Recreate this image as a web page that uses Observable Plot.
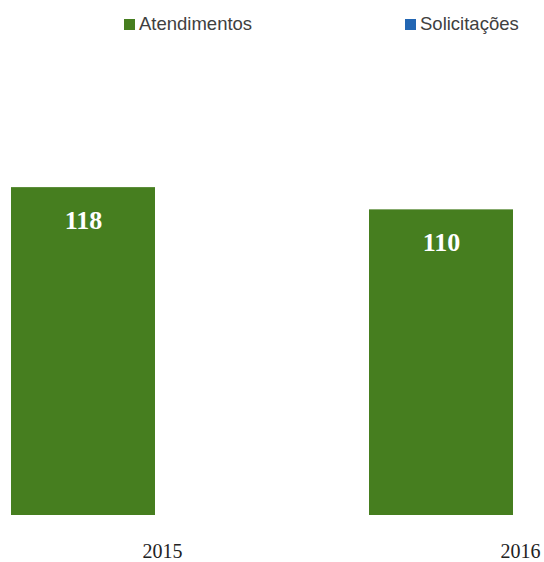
<!DOCTYPE html>
<html>
<head>
<meta charset="utf-8">
<script src="https://cdn.jsdelivr.net/npm/d3@7"></script>
<script src="https://cdn.jsdelivr.net/npm/@observablehq/plot@0.6"></script>
<style>
  html, body { margin: 0; padding: 0; background: #fff; }
  #legend { position: relative; height: 50px; width: 544px; font-family: "Liberation Sans", Arial, sans-serif; font-size: 18.5px; color: #404040; }
  .item { position: absolute; top: 13px; display: flex; align-items: center; }
  .sw { width: 11px; height: 11px; margin-right: 4px; }
  #chart svg { display: block; }
</style>
</head>
<body>
<div id="legend"></div>
<div id="chart"></div>
<script>
const years = ["2015", "2016"];
const series = ["Atendimentos", "Solicitações"];
const atendimentos = [118, 110];
const solicitacoes = [null, null];
const colors = ["#467e1f", "#2266b3"];

const legendLeft = [124, 405];
const legend = document.getElementById("legend");
series.forEach((s, i) => {
  const it = document.createElement("div");
  it.className = "item";
  it.style.left = legendLeft[i] + "px";
  const sw = document.createElement("div");
  sw.className = "sw";
  sw.style.background = colors[i];
  const t = document.createElement("span");
  t.textContent = s;
  it.appendChild(sw);
  it.appendChild(t);
  legend.appendChild(it);
});

const dataA = years.map((y, i) => ({year: y, series: series[0], value: atendimentos[i]}));
const dataS = years.map((y, i) => ({year: y, series: series[1], value: solicitacoes[i]}));

const chart = Plot.plot({
  width: 544,
  height: 512,
  marginTop: 76,
  marginBottom: 47,
  marginLeft: 0,
  marginRight: 0,
  x: {type: "band", domain: years, range: [-17, 699], padding: 0},
  y: {domain: [0, 140], axis: null},
  color: {domain: series, range: colors},
  style: {background: "transparent"},
  marks: [
    Plot.barY(dataA, {x: "year", y: "value", fill: "series", insetLeft: 28, insetRight: 186}),
    Plot.barY(dataS.filter(d => d.value != null), {x: "year", y: "value", fill: "series", insetLeft: 186, insetRight: 28}),
    Plot.text(dataA, {x: "year", y: "value", text: d => String(d.value), dx: -79, dy: 33,
      fill: "white", fontSize: 26, fontWeight: "bold", fontFamily: "Liberation Serif, serif", lineAnchor: "middle"}),
    Plot.axisX({tickSize: 0, tickPadding: 28, fontSize: 20, fontFamily: "Liberation Serif, serif", fill: "#222", label: null})
  ]
});
document.getElementById("chart").appendChild(chart);
</script>
</body>
</html>
